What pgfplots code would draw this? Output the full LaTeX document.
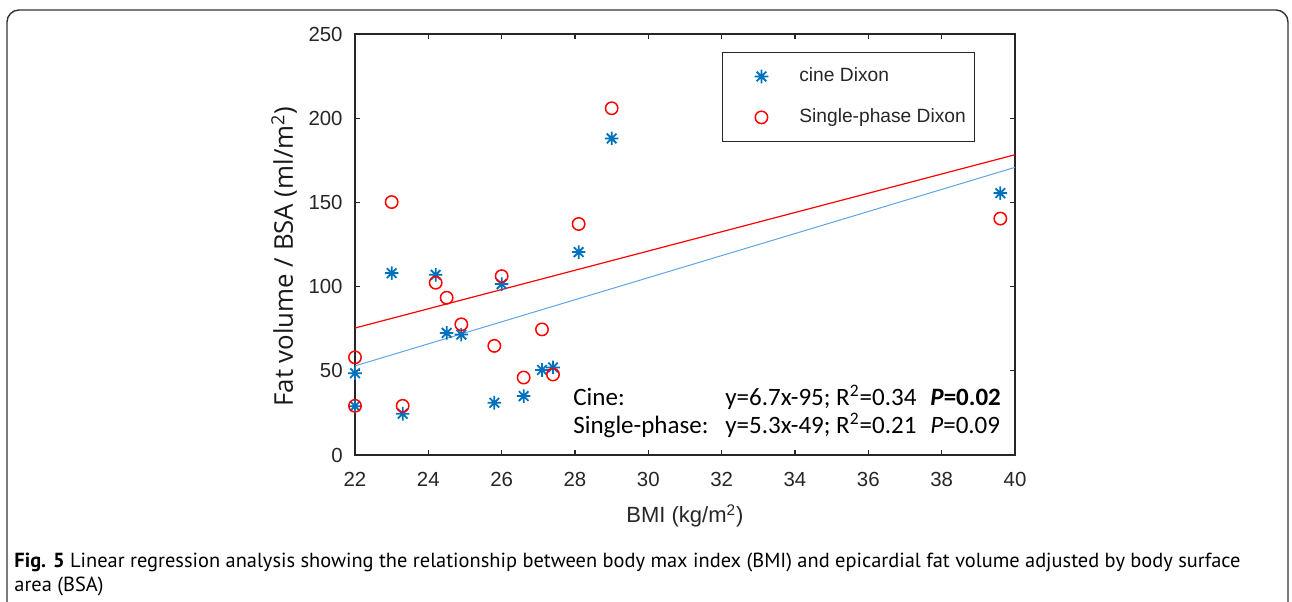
\documentclass[border=0pt]{standalone}
\usepackage{pgfplots}
\pgfplotsset{compat=1.18}
\usepackage{pgfplotstable}
\usepackage{fontspec}
\setmainfont{Liberation Sans}
\newfontfamily\labelfont{Open Sans}
\newfontfamily\calfont{Carlito}
\newfontfamily\capfont{PT Sans}

\definecolor{mblue}{rgb}{0,0.447,0.741}
\definecolor{lblue}{rgb}{0.38,0.64,0.90}
\definecolor{axgray}{rgb}{0.15,0.15,0.15}

% MATLAB style '*' marker (+ and x together)
\pgfdeclareplotmark{mstar}{%
  \pgfpathmoveto{\pgfqpoint{-\pgfplotmarksize}{0pt}}%
  \pgfpathlineto{\pgfqpoint{\pgfplotmarksize}{0pt}}%
  \pgfpathmoveto{\pgfqpoint{0pt}{-\pgfplotmarksize}}%
  \pgfpathlineto{\pgfqpoint{0pt}{\pgfplotmarksize}}%
  \pgfpathmoveto{\pgfqpoint{-0.707\pgfplotmarksize}{-0.707\pgfplotmarksize}}%
  \pgfpathlineto{\pgfqpoint{0.707\pgfplotmarksize}{0.707\pgfplotmarksize}}%
  \pgfpathmoveto{\pgfqpoint{-0.707\pgfplotmarksize}{0.707\pgfplotmarksize}}%
  \pgfpathlineto{\pgfqpoint{0.707\pgfplotmarksize}{-0.707\pgfplotmarksize}}%
  \pgfusepathqstroke}

% BMI vs fat volume / BSA
\pgfplotstableread{
x y
22.0 48.6
22.0 29.0
23.0 108.0
23.3 24.5
24.2 107.0
24.5 72.5
24.9 71.5
26.0 101.5
25.8 31.0
26.6 35.0
27.1 50.5
27.4 52.0
28.1 120.5
29.0 188.0
39.6 155.5
}\cine
\pgfplotstableread{
x y
22.0 58.0
22.0 29.2
23.0 150.2
23.3 29.2
24.2 102.3
24.5 93.4
24.9 77.6
26.0 106.2
25.8 64.8
26.6 46.0
27.1 74.6
27.4 47.8
28.1 137.2
29.0 205.9
39.6 140.4
}\single

\begin{document}
\begin{tikzpicture}
\useasboundingbox (0pt,0pt) rectangle (646pt,300.5pt);
\draw[line width=0.7pt, black!80, rounded corners=6pt] (3.5pt,-20pt) rectangle (644pt,295.5pt);
\begin{axis}[
    at={(177.5pt,73pt)}, anchor=south west,
    scale only axis, width=330pt, height=210.5pt,
    xmin=22, xmax=40, ymin=0, ymax=250,
    xtick={22,24,...,40}, ytick={0,50,...,250},
    tick align=inside, major tick length=2.5pt,
    axis line style={axgray, line width=0.6pt},
    every tick/.style={axgray, line width=0.6pt},
    /pgf/number format/assume math mode=true,
    tick label style={font=\fontsize{10.2}{12}\selectfont, text=axgray},
    yticklabel style={inner sep=0pt, xshift=-6pt},
    xticklabel style={inner sep=0pt, yshift=-8.5pt},
    xlabel={BMI (kg/m\textsuperscript{2})},
    xlabel style={at={(axis description cs:0.5,-0.1615)}, anchor=base,
      font=\fontsize{11}{13}\selectfont, text=axgray},
    ylabel={Fat volume / BSA (ml/m\textsuperscript{2})},
    ylabel style={at={(axis description cs:-0.094,0.4715)}, anchor=base,
      font=\labelfont\fontsize{12.9}{15}\selectfont, text=black!90},
    legend style={at={(0.556,0.957)}, anchor=north west,
      draw=axgray, line width=0.6pt,
      inner xsep=4.5pt, inner ysep=7.4pt, row sep=11.5pt, column sep=10.5pt,
      nodes={inner sep=0pt, text depth=0.2em},
      font=\fontsize{9.6}{11}\selectfont, text=axgray},
    legend cell align=left,
    legend image code/.code={\path (-14.5pt,0pt) (8pt,0pt);
      \draw[#1] plot coordinates {(0pt,0pt)};},
  ]
  \addplot[only marks, mark=mstar, mark size=3.4pt, draw=mblue, line width=0.9pt]
    table[x=x,y=y] {\cine};
  \addlegendentry{cine Dixon}
  \addplot[only marks, mark=o, mark size=3.1pt, draw=red, line width=0.75pt]
    table[x=x,y=y] {\single};
  \addlegendentry{Single-phase Dixon}
  % regression lines
  \addplot[forget plot, lblue, line width=0.5pt] coordinates {(22,52.9) (40,170.8)};
  \addplot[forget plot, red, line width=0.6pt] coordinates {(22,75.4) (40,178.3)};
\end{axis}
\begin{scope}[font=\calfont\fontsize{12.5}{15}\selectfont]
  \node[anchor=base west, inner sep=0pt] at (286.5pt,98pt) {Cine:};
  \node[anchor=base west, inner sep=0pt] at (362.5pt,98pt) {y=6.7x-95; R\textsuperscript{2}=0.34};
  \node[anchor=base west, inner sep=0pt] at (465pt,98pt) {\textbf{\textit{P}=0.02}};
  \node[anchor=base west, inner sep=0pt] at (286.5pt,84pt) {Single-phase:};
  \node[anchor=base west, inner sep=0pt] at (362.5pt,84pt) {y=5.3x-49; R\textsuperscript{2}=0.21};
  \node[anchor=base west, inner sep=0pt] at (465pt,84pt) {\textit{P}=0.09};
\end{scope}
\begin{scope}[font=\capfont\fontsize{10.2}{12}\selectfont]
  \node[anchor=base west, inner sep=0pt] at (7pt,17pt) {\textbf{Fig. 5} Linear regression analysis showing the relationship between body max index (BMI) and epicardial fat volume adjusted by body surface};
  \node[anchor=base west, inner sep=0pt] at (7pt,5pt) {area (BSA)};
\end{scope}
\end{tikzpicture}
\end{document}
